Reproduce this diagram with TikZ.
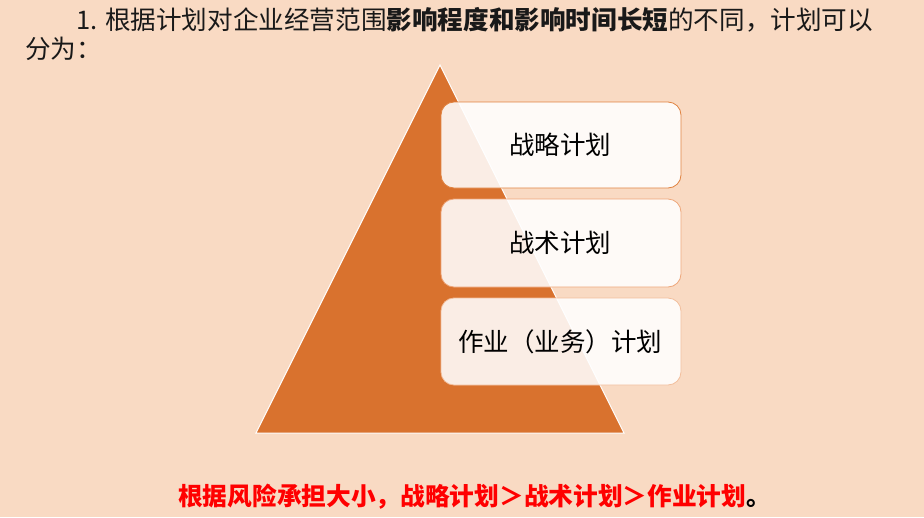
\documentclass[tikz,border=0pt]{standalone}
\usepackage{fontspec}
\setmainfont{Noto Sans CJK SC}
\definecolor{bgpeach}{HTML}{F9DAC3}
\definecolor{triorange}{HTML}{D9722E}
\definecolor{boxedge}{HTML}{E0823F}
\definecolor{boxedgeb}{HTML}{EEA67A}
\definecolor{boxedgec}{HTML}{F2BE9C}
\definecolor{redtext}{HTML}{FF0000}
\begin{document}
\begin{tikzpicture}[x=1pt,y=-1pt,
  planbox/.style={rounded corners=13pt,fill=white,fill opacity=0.88,line width=0.8pt},
  boxtext/.style={font=\fontsize{25.5}{28}\selectfont,text=black,inner sep=0pt},
  titletext/.style={font=\fontsize{25.6}{30}\selectfont,text=black!90,inner sep=0pt,anchor=west}]
\fill[bgpeach] (0,0) rectangle (924,517);
\useasboundingbox (0,0) rectangle (924,517);
% triangle
\coordinate (apex) at (440,65);
\coordinate (bl) at (256,433);
\coordinate (br) at (624,433);
\fill[triorange,draw=white,line width=1pt] (apex) -- (br) -- (bl) -- cycle;
% boxes
\draw[planbox,draw=boxedge] (441,102) rectangle (681,188);
\draw[planbox,draw=boxedgeb] (441,199) rectangle (681,287);
\draw[planbox,draw=boxedgec] (441,298) rectangle (681,385);
\node[boxtext] (s) at (560,145) {战略计划};
\node[boxtext] (t) at (560,243) {战术计划};
\node[boxtext] (o) at (560,342) {作业（业务）计划};
% title
\node[titletext] (title1) at (76,20) {1. 根据计划对企业经营范围\textbf{影响程度和影响时间长短}的不同，计划可以};
\node[titletext] (title2) at (25,49) {分为：};
% bottom
\node[inner sep=0pt,anchor=west,font=\fontsize{24.7}{28}\selectfont\bfseries] (note) at (178,497) {\textcolor{redtext}{根据风险承担大小，战略计划＞战术计划＞作业计划}\textcolor{black}{。}};
\end{tikzpicture}
\end{document}
